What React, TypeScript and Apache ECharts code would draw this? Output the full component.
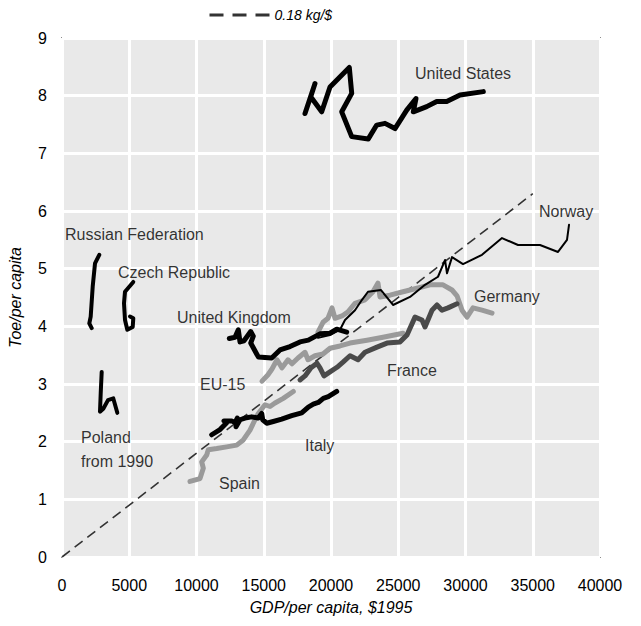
import React, { useEffect, useRef } from "react";
import * as echarts from "echarts";

// GDP per capita ($1995) and toe per capita
const usGdp = [18067, 18810, 18491, 19309, 19926, 21361, 21540, 20796, 21540, 22774, 23398, 24015, 24759, 25629, 26320, 26120, 27116, 27860, 28603, 29592, 31325];
const usToe = [7.69, 8.21, 7.98, 7.72, 8.15, 8.49, 8.04, 7.72, 7.29, 7.25, 7.49, 7.52, 7.43, 7.75, 7.95, 7.72, 7.81, 7.90, 7.90, 8.01, 8.07];

const ruGdp = [2773, 2454, 2283, 2134, 2030, 2208];
const ruToe = [5.24, 5.09, 4.69, 4.17, 4.05, 3.97];

const czGdp = [5301, 4684, 4610, 4684, 4855, 5257, 5301, 5056];
const czToe = [4.77, 4.60, 4.40, 4.11, 3.94, 3.99, 4.14, 4.17];

const plGdp = [2952, 2878, 2825, 3071, 3420, 3814, 4112];
const plToe = [3.21, 2.84, 2.52, 2.57, 2.72, 2.75, 2.50];

const ukGdp = [12439, 12863, 13108, 13234, 13532, 14030, 14223, 14030, 14595, 15591, 16208, 16952, 17695, 18313, 19182, 19926, 20424, 21167];
const ukToe = [3.79, 3.81, 3.94, 3.73, 3.75, 3.91, 3.83, 3.71, 3.47, 3.45, 3.59, 3.65, 3.73, 3.76, 3.87, 3.88, 3.95, 3.90];

const noGdp = [19034, 19926, 20669, 21041, 21785, 22305, 22751, 23718, 24610, 25874, 26989, 27956, 28476, 28625, 28997, 29815, 31227, 32714, 33904, 35539, 36878, 37547, 37696];
const noToe = [3.80, 3.85, 3.94, 4.11, 4.28, 4.46, 4.60, 4.63, 4.37, 4.51, 4.72, 4.86, 5.15, 4.92, 5.20, 5.08, 5.24, 5.53, 5.41, 5.41, 5.29, 5.50, 5.76];

const deGdp = [19034, 19406, 19777, 20075, 20298, 20818, 21264, 21785, 22528, 23123, 23494, 23643, 24387, 25353, 26394, 27361, 28327, 28997, 29368, 29740, 30112, 30558, 31227, 31971];
const deToe = [3.90, 4.07, 4.14, 4.32, 4.14, 4.18, 4.25, 4.40, 4.46, 4.60, 4.75, 4.51, 4.54, 4.60, 4.66, 4.72, 4.72, 4.63, 4.53, 4.28, 4.16, 4.32, 4.28, 4.23];

const frGdp = [17695, 18067, 18513, 18959, 19182, 19480, 19926, 20446, 20892, 21413, 22008, 22528, 23420, 24164, 25130, 25651, 26246, 26766, 26989, 27510, 27881, 28253, 28699, 29368];
const frToe = [3.07, 3.14, 3.28, 3.36, 3.28, 3.14, 3.21, 3.29, 3.38, 3.49, 3.42, 3.55, 3.64, 3.71, 3.73, 3.85, 4.16, 4.11, 3.99, 4.28, 4.37, 4.28, 4.32, 4.39];

const euGdp = [14870, 15316, 15614, 15985, 16357, 16803, 17101, 17547, 18067, 18290, 18811, 19406, 19926, 20669, 21413, 22677, 23866, 25353];
const euToe = [3.05, 3.16, 3.26, 3.42, 3.28, 3.42, 3.35, 3.45, 3.55, 3.42, 3.49, 3.52, 3.62, 3.66, 3.71, 3.76, 3.81, 3.88];

const esGdp = [9517, 10260, 10506, 10387, 10759, 10878, 11502, 12246, 12989, 13480, 13978, 14350, 14595, 15093, 15465, 15837, 16454, 17197];
const esToe = [1.31, 1.36, 1.54, 1.65, 1.77, 1.86, 1.88, 1.91, 1.94, 2.03, 2.20, 2.38, 2.49, 2.64, 2.61, 2.67, 2.75, 2.87];

const itGdp = [11130, 11747, 12245, 12045, 12617, 12863, 13034, 12937, 13234, 13606, 14104, 14595, 14848, 14922, 15219, 15710, 16335, 17078, 17822, 18313, 18684, 19056, 19428, 19800, 20424];
const itToe = [2.12, 2.21, 2.33, 2.36, 2.36, 2.33, 2.41, 2.26, 2.38, 2.41, 2.43, 2.41, 2.49, 2.38, 2.32, 2.35, 2.39, 2.45, 2.50, 2.60, 2.65, 2.68, 2.75, 2.78, 2.87];

const refGdp = [0, 35000];
const refToe = [0, 6.3];

const labelNames = ["United States", "Russian Federation", "Czech Republic", "United Kingdom", "EU-15", "Poland\nfrom 1990", "Spain", "Italy", "France", "Germany", "Norway"];
const labelGdp = [26246, 223, 4164, 8550, 10260, 1413, 11673, 18067, 24164, 30632, 35465];
const labelToe = [8.38, 5.60, 4.94, 4.16, 3.00, 1.86, 1.28, 1.94, 3.24, 4.51, 6.00];

const xTicks = [0, 5000, 10000, 15000, 20000, 25000, 30000, 35000, 40000];
const yTicks = [0, 1, 2, 3, 4, 5, 6, 7, 8, 9];

const FONT = "'Liberation Sans', Arial, sans-serif";

function pairs(xs: number[], ys: number[]) {
  return xs.map((x, i) => [x, ys[i]]);
}

function countryLine(name: string, xs: number[], ys: number[], color: string, width: number) {
  return {
    name,
    type: "line",
    data: pairs(xs, ys),
    symbol: "none",
    showSymbol: false,
    silent: true,
    lineStyle: { color, width, cap: "round", join: "round" },
    itemStyle: { color },
    z: 3,
  };
}

export default function App() {
  const ref = useRef<HTMLDivElement>(null);
  useEffect(() => {
    if (!ref.current) return;
    const chart = echarts.init(ref.current, null, { renderer: "svg" });
    const black = "#000000";
    const gray = "#9a9a9a";
    const dark = "#4a4a4a";
    chart.setOption({
      animation: false,
      backgroundColor: "#ffffff",
      textStyle: { fontFamily: FONT },
      legend: {
        data: ["0.18 kg/$"],
        left: 200,
        top: 0,
        padding: 0,
        itemWidth: 60,
        itemHeight: 12,
        itemGap: 8,
        itemStyle: { opacity: 0 },
        lineStyle: { width: 3, type: [14, 9], color: "#333333" },
        textStyle: { fontFamily: FONT, fontSize: 14, fontStyle: "italic", color: "#000" },
      },
      grid: {
        left: 54,
        right: 33,
        top: 30,
        bottom: 61,
        outerBoundsMode: "none",
        containLabel: false,
        show: true,
        backgroundColor: "#e9e9e9",
        borderColor: "#8c8c8c",
        borderWidth: 2,
      },
      xAxis: {
        type: "value",
        min: xTicks[0],
        max: xTicks[xTicks.length - 1],
        interval: 5000,
        name: "GDP/per capita, $1995",
        nameLocation: "middle",
        nameGap: 42,
        nameTextStyle: { fontFamily: FONT, fontSize: 16, fontStyle: "italic", color: "#000" },
        axisLine: { show: false },
        axisTick: { show: false },
        axisLabel: { fontFamily: FONT, fontSize: 16, color: "#000", margin: 20, formatter: (v: number) => String(v) },
        splitLine: { show: true, lineStyle: { color: "#ffffff", width: 3 } },
      },
      yAxis: {
        type: "value",
        min: yTicks[0],
        max: yTicks[yTicks.length - 1],
        interval: 1,
        name: "Toe/per capita",
        nameLocation: "middle",
        nameGap: 39,
        nameTextStyle: { fontFamily: FONT, fontSize: 16, fontStyle: "italic", color: "#000" },
        axisLine: { show: false },
        axisTick: { show: false },
        axisLabel: { fontFamily: FONT, fontSize: 16, color: "#000", margin: 15, formatter: (v: number) => String(v) },
        splitLine: { show: true, lineStyle: { color: "#ffffff", width: 3 } },
      },
      series: [
        {
          name: "0.18 kg/$",
          type: "line",
          data: pairs(refGdp, refToe),
          symbol: "none",
          showSymbol: false,
          silent: true,
          lineStyle: { color: "#333333", width: 1.6, type: [10, 6] },
          itemStyle: { color: "#333333" },
          z: 2,
        },
        countryLine("Spain", esGdp, esToe, gray, 5),
        countryLine("EU-15", euGdp, euToe, gray, 5),
        countryLine("Germany", deGdp, deToe, gray, 5),
        countryLine("France", frGdp, frToe, dark, 5),
        countryLine("Italy", itGdp, itToe, black, 5),
        countryLine("United Kingdom", ukGdp, ukToe, black, 5),
        countryLine("Norway", noGdp, noToe, black, 2),
        countryLine("United States", usGdp, usToe, black, 5),
        countryLine("Russian Federation", ruGdp, ruToe, black, 4),
        countryLine("Czech Republic", czGdp, czToe, black, 4),
        countryLine("Poland", plGdp, plToe, black, 4),
        {
          name: "labels",
          type: "scatter",
          symbolSize: 0,
          silent: true,
          data: labelNames.map((n, i) => ({ name: n, value: [labelGdp[i], labelToe[i]] })),
          label: {
            show: true,
            position: [0, 0],
            align: "left",
            verticalAlign: "middle",
            formatter: (p: any) => p.name,
            fontFamily: FONT,
            fontSize: 16,
            lineHeight: 24,
            color: "#000",
          },
          z: 5,
        },
      ],
    });
    return () => chart.dispose();
  }, []);
  return <div ref={ref} style={{ width: 625, height: 610 }} />;
}
